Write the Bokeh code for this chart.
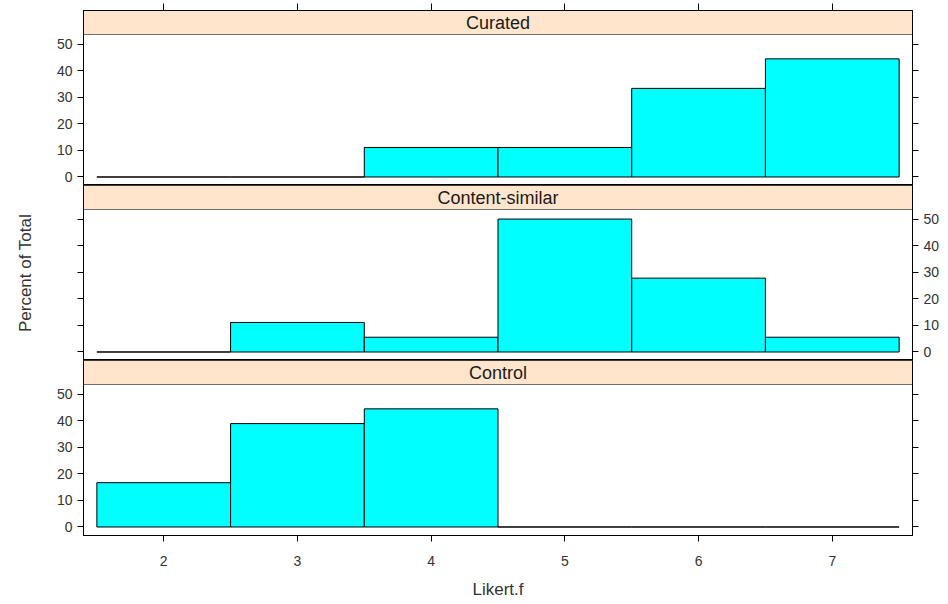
from bokeh.plotting import figure
from bokeh.layouts import column
from bokeh.models import Range1d, LinearAxis, FixedTicker
from bokeh.core.properties import value
from bokeh.embed import file_html
from bokeh.resources import INLINE

# ---- data (percent of total per Likert level) ----
likert = [2, 3, 4, 5, 6, 7]
panel_names = ["Curated", "Content-similar", "Control"]
curated = [0.0, 0.0, 11.11, 11.11, 33.33, 44.44]
content_similar = [0.0, 11.11, 5.56, 50.0, 27.78, 5.56]
control = [16.67, 38.89, 44.44, 0.0, 0.0, 0.0]
x_ticks = [2, 3, 4, 5, 6, 7]
y_ticks = [0, 10, 20, 30, 40, 50]

# ---- layout / style ----
FONT = "Liberation Sans"
X0, X1 = 1.4, 7.6
Y0, Y1 = -3.2, 53.6
PANEL_PX, STRIP_PX = 151, 24
Y_END = Y1 + (Y1 - Y0) * STRIP_PX / PANEL_PX
STRIP_FILL = "#ffe5cc"
BAR_FILL = "#00ffff"
TXT = "#333333"


def make_axis(ticks, labels=True, tick_out=6):
    ax = LinearAxis(ticker=FixedTicker(ticks=ticks))
    ax.major_tick_out = tick_out
    ax.major_tick_in = 0
    ax.minor_tick_out = 0
    ax.minor_tick_in = 0
    ax.axis_line_color = "black"
    ax.major_tick_line_color = "black"
    if labels:
        ax.major_label_text_font = FONT
        ax.major_label_text_font_size = "14px"
        ax.major_label_text_color = TXT
        ax.major_label_standoff = 5
    else:
        ax.major_label_overrides = {t: "" for t in ticks}
        ax.major_label_text_font_size = "1px"
        ax.major_label_standoff = 0
    return ax


def make_panel(name, vals, left_labels, top_axis=False, bottom_axis=False, ylab=None):
    p = figure(frame_width=829, frame_height=PANEL_PX + STRIP_PX,
               x_range=Range1d(X0, X1), y_range=Range1d(Y0, Y_END),
               x_axis_location=None, y_axis_location=None,
               output_backend="svg", toolbar_location=None,
               min_border_left=83, min_border_right=30,
               min_border_top=10 if top_axis else 0, min_border_bottom=0,
               background_fill_color="white", border_fill_color="white",
               outline_line_color="black", outline_line_width=1)
    p.grid.grid_line_color = None

    # strip
    p.quad(left=[X0], right=[X1], bottom=[Y1], top=[Y_END],
           fill_color=STRIP_FILL, line_color=None)
    p.segment(x0=[X0], x1=[X1], y0=[Y1], y1=[Y1], line_color="#6e6e6e", line_width=1)
    p.text(x=[(X0 + X1) / 2], y=[(Y1 + Y_END) / 2], text=[name],
           text_font=value(FONT), text_font_size="18px", text_color="#1a1a1a",
           text_align="center", text_baseline="middle")

    # histogram bars
    left = [v - 0.5 for v in likert]
    right = [v + 0.5 for v in likert]
    p.quad(left=left, right=right, bottom=[0] * len(vals), top=vals,
           fill_color=BAR_FILL, line_color="black", line_width=1)

    # axes
    la = make_axis(y_ticks, labels=left_labels)
    ra = make_axis(y_ticks, labels=not left_labels)
    if ylab:
        la.axis_label = ylab
        la.axis_label_text_font = FONT
        la.axis_label_text_font_size = "17px"
        la.axis_label_text_font_style = "normal"
        la.axis_label_text_color = TXT
        la.axis_label_standoff = 43
    p.add_layout(la, "left")
    p.add_layout(ra, "right")
    if top_axis:
        p.add_layout(make_axis(x_ticks, labels=False, tick_out=7), "above")
    if bottom_axis:
        ba = make_axis(x_ticks, labels=True)
        ba.major_label_standoff = 14
        ba.axis_label = "Likert.f"
        ba.axis_label_text_font = FONT
        ba.axis_label_text_font_size = "17px"
        ba.axis_label_text_font_style = "normal"
        ba.axis_label_text_color = TXT
        ba.axis_label_standoff = 11
        p.add_layout(ba, "below")
    return p


p1 = make_panel(panel_names[0], curated, left_labels=True, top_axis=True)
p2 = make_panel(panel_names[1], content_similar, left_labels=False, ylab="Percent of Total")
p3 = make_panel(panel_names[2], control, left_labels=True, bottom_axis=True)

layout = column(p1, p2, p3, spacing=0)
open("out.html", "w").write(file_html(layout, INLINE))
